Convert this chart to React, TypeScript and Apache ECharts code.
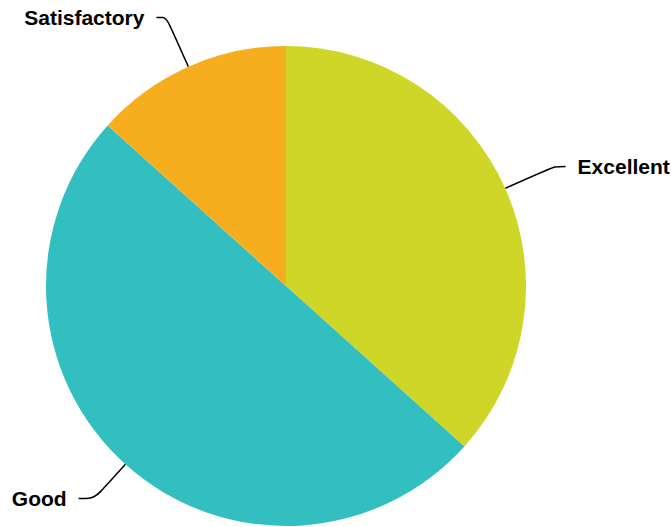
import React, { useEffect, useRef } from "react";
import * as echarts from "echarts";

const categories = ["Excellent", "Good", "Satisfactory"];
const values = [11, 15, 4];
const colors = ["#CED628", "#33BEBF", "#F6AE1F"];
const lineLengths = [54, 46, 54];
const lineLengths2 = [11, 16, 10];

export default function App() {
  const ref = useRef<HTMLDivElement>(null);
  useEffect(() => {
    document.body.style.margin = "0";
    const chart = echarts.init(ref.current!, null, { renderer: "svg" });
    chart.setOption({
      animation: false,
      backgroundColor: "#ffffff",
      series: [
        {
          type: "pie",
          center: [286, 286],
          radius: 240,
          startAngle: 90,
          clockwise: true,
          data: categories.map((c, i) => ({
            name: c,
            value: values[i],
            itemStyle: { color: colors[i] },
            labelLine: { length: lineLengths[i], length2: lineLengths2[i] },
          })),
          label: {
            show: true,
            color: "#000",
            fontFamily: "Liberation Sans, Arial, sans-serif",
            fontWeight: "bold",
            fontSize: 21,
            overflow: "none",
            distanceToLabelLine: 12,
          },
          labelLine: {
            show: true,
            length: 54,
            length2: 10,
            smooth: true,
            lineStyle: { color: "#000", width: 1.5 },
          },
        },
      ],
    });
    return () => chart.dispose();
  }, []);
  return <div ref={ref} style={{ width: 671, height: 527 }} />;
}
